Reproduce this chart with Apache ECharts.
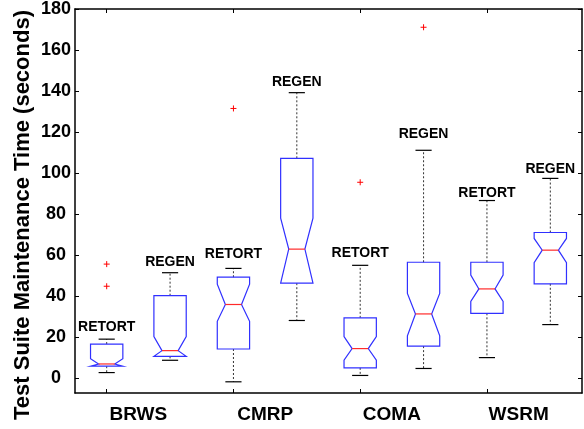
<!DOCTYPE html>
<html><head><meta charset="utf-8">
<script src="https://cdn.jsdelivr.net/npm/echarts@6/dist/echarts.min.js"></script>
<style>html,body{margin:0;padding:0;background:#fff}#c{width:584px;height:429px}</style>
</head><body><div id="c"></div>
<script>
// ---- data ----
const groups = ['BRWS', 'CMRP', 'COMA', 'WSRM'];
const tools = ['RETORT', 'REGEN', 'RETORT', 'REGEN', 'RETORT', 'REGEN', 'RETORT', 'REGEN'];
const boxNames = ['BRWS RETORT', 'BRWS REGEN', 'CMRP RETORT', 'CMRP REGEN', 'COMA RETORT', 'COMA REGEN', 'WSRM RETORT', 'WSRM REGEN'];
const whiskerLow  = [2.7, 8.7, -1.8, 28.1, 1.3, 4.7, 10.0, 26.1];
const q1          = [5.8, 10.6, 14.2, 46.3, 5.0, 15.6, 31.6, 46.0];
const notchLow    = [5.8, 10.6, 27.7, 46.3, 8.7, 20.6, 37.4, 56.3];
const median      = [6.9, 13.4, 35.9, 62.9, 14.4, 31.3, 43.5, 62.4];
const notchHigh   = [9.5, 20.3, 45.8, 78.0, 20.3, 41.3, 50.3, 68.1];
const q3          = [16.6, 40.2, 49.2, 107.2, 29.4, 56.5, 56.5, 71.0];
const whiskerHigh = [19.0, 51.4, 53.5, 139.2, 55.0, 111.1, 86.6, 97.4];
const outlierBox  = [0, 0, 2, 4, 5];
const outlierVal  = [55.6, 44.8, 131.5, 95.5, 171.1];
const labelY      = [24.7, 56.6, 60.5, 144.2, 61.0, 119.0, 90.0, 102.1];
const yTicks      = [0, 20, 40, 60, 80, 100, 120, 140, 160, 180];
const yTitle = 'Test Suite Maintenance Time (seconds)';

const FONT = 'Liberation Sans, Arial, Helvetica, sans-serif';
const boxData = boxNames.map((n, i) => [i, whiskerLow[i], q1[i], notchLow[i], median[i], notchHigh[i], q3[i], whiskerHigh[i]]);
const outData = outlierBox.map((b, k) => [b, outlierVal[k]]);
const labData = tools.map((t, i) => [i, labelY[i]]);

function renderBox(params, api) {
  const i = api.value(0);
  const x = api.coord([i, 0])[0];
  const band = api.size([1, 0])[0];
  const hw = band * 0.255, nw = hw * 0.5, cw = hw * 0.5;
  const y = v => api.coord([i, v])[1];
  const wl = api.value(1), a = api.value(2), nl = api.value(3), md = api.value(4),
        nh = api.value(5), b = api.value(6), wh = api.value(7);
  const pts = [[x - hw, y(b)], [x - hw, y(nh)], [x - nw, y(md)], [x - hw, y(nl)], [x - hw, y(a)],
               [x + hw, y(a)], [x + hw, y(nl)], [x + nw, y(md)], [x + hw, y(nh)], [x + hw, y(b)]];
  const dash = {stroke: '#333', lineWidth: 1, lineDash: [2, 2]};
  const cap = {stroke: '#000', lineWidth: 1.2};
  return {type: 'group', children: [
    {type: 'line', shape: {x1: x, y1: y(b), x2: x, y2: y(wh)}, style: dash},
    {type: 'line', shape: {x1: x, y1: y(a), x2: x, y2: y(wl)}, style: dash},
    {type: 'line', shape: {x1: x - cw, y1: y(wh), x2: x + cw, y2: y(wh)}, style: cap},
    {type: 'line', shape: {x1: x - cw, y1: y(wl), x2: x + cw, y2: y(wl)}, style: cap},
    {type: 'polygon', shape: {points: pts}, style: {fill: 'none', stroke: '#3030ff', lineWidth: 1.2}},
    {type: 'line', shape: {x1: x - nw, y1: y(md), x2: x + nw, y2: y(md)}, style: {stroke: '#ff2a2a', lineWidth: 1.2}}
  ]};
}
function renderOut(params, api) {
  const p = api.coord([api.value(0), api.value(1)]);
  const s = 3;
  const st = {stroke: '#ff0000', lineWidth: 1};
  return {type: 'group', children: [
    {type: 'line', shape: {x1: p[0] - s, y1: p[1], x2: p[0] + s, y2: p[1]}, style: st},
    {type: 'line', shape: {x1: p[0], y1: p[1] - s, x2: p[0], y2: p[1] + s}, style: st}
  ]};
}
function renderLab(params, api) {
  const i = api.value(0);
  const p = api.coord([i, api.value(1)]);
  return {type: 'text', x: p[0], y: p[1], style: {text: tools[i], textAlign: 'center', textVerticalAlign: 'middle',
    font: 'bold 14px ' + FONT, fill: '#000'}};
}

const axisLine = {show: true, onZero: false, lineStyle: {color: '#000', width: 1.5}};
const chart = echarts.init(document.getElementById('c'), null, {renderer: 'canvas'});
chart.setOption({
  animation: false,
  backgroundColor: '#fff',
  grid: {left: 75, right: 2, top: 6, bottom: 36},
  xAxis: [
    {type: 'category', data: boxNames, position: 'bottom', axisLine,
     axisTick: {show: true, inside: true, length: 4, alignWithLabel: true, lineStyle: {color: '#000'}},
     axisLabel: {show: false}, splitLine: {show: false}},
    {type: 'category', data: boxNames, position: 'top', axisLine,
     axisTick: {show: true, inside: true, length: 4, alignWithLabel: true, lineStyle: {color: '#000'}},
     axisLabel: {show: false}, splitLine: {show: false}},
    {type: 'category', data: groups, position: 'bottom', axisLine: {show: false, onZero: false}, axisTick: {show: false},
     axisLabel: {show: true, margin: 12, fontSize: 19, fontWeight: 'bold', fontFamily: FONT, color: '#000'}}
  ],
  yAxis: [
    {type: 'value', min: -7.26, max: 180, position: 'left', axisLine,
     axisTick: {show: true, inside: true, length: 4, customValues: yTicks, lineStyle: {color: '#000'}},
     axisLabel: {show: true, customValues: yTicks, align: 'center', margin: 19, fontSize: 18, fontWeight: 'bold', fontFamily: FONT, color: '#000'},
     splitLine: {show: false}},
    {type: 'value', min: -7.26, max: 180, position: 'right', axisLine,
     axisTick: {show: true, inside: true, length: 4, customValues: yTicks, lineStyle: {color: '#000'}},
     axisLabel: {show: false}, splitLine: {show: false}}
  ],
  graphic: [{type: 'text', x: 23, y: 215, rotation: Math.PI / 2,
    style: {text: yTitle, textAlign: 'center', textVerticalAlign: 'middle', font: 'bold 22px ' + FONT, fill: '#000'}}],
  series: [
    {type: 'custom', renderItem: renderBox, data: boxData, encode: {x: 0, y: [1, 7]}, xAxisIndex: 0, yAxisIndex: 0, clip: false},
    {type: 'custom', renderItem: renderOut, data: outData, encode: {x: 0, y: 1}, xAxisIndex: 0, yAxisIndex: 0},
    {type: 'custom', renderItem: renderLab, data: labData, encode: {x: 0, y: 1}, xAxisIndex: 0, yAxisIndex: 0, clip: false}
  ]
});
</script></body></html>
